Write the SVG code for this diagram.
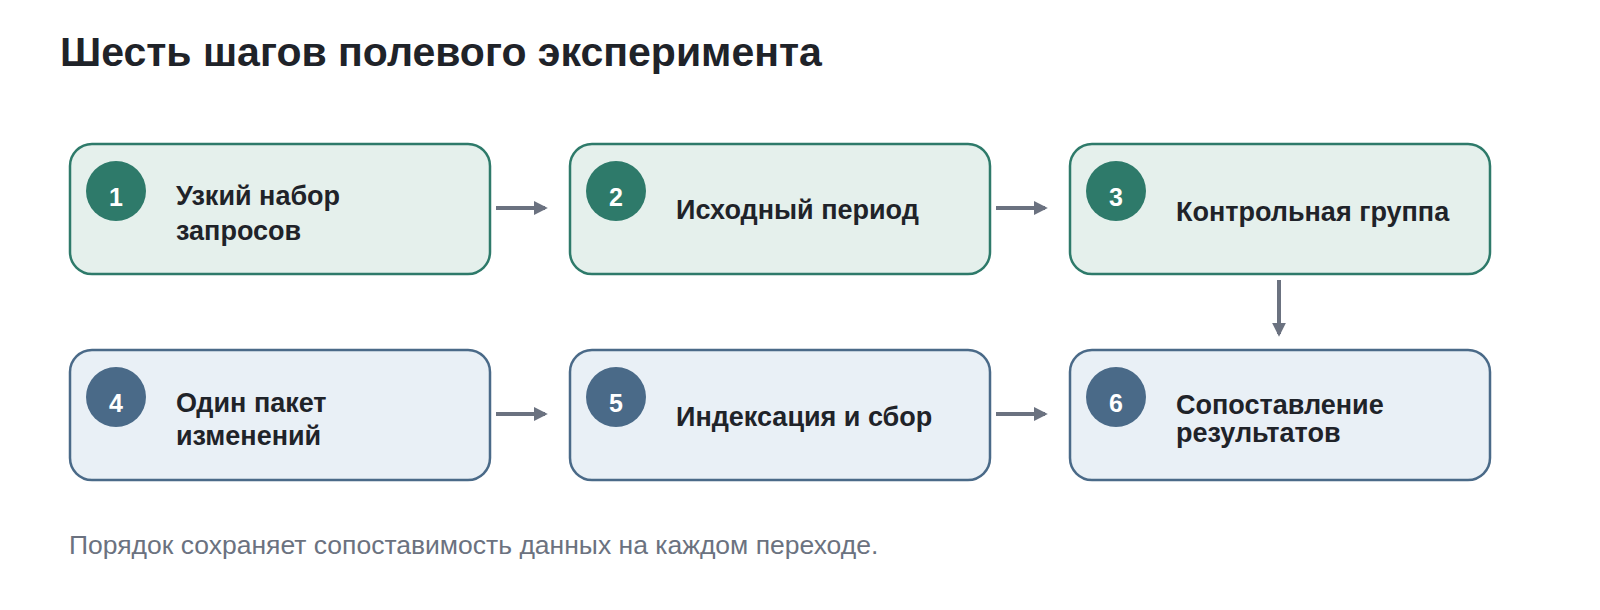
<svg xmlns="http://www.w3.org/2000/svg" width="1600" height="610" viewBox="0 0 1600 610">
<style>
text{font-family:"Liberation Sans",Arial,sans-serif}
.t{font-size:41px;font-weight:bold;fill:#1f2329}
.g rect{fill:#e5f0ec;stroke:#2e7a6a;stroke-width:2.5}
.g circle{fill:#2e7a6a}
.b rect{fill:#e9f0f6;stroke:#4a6a88;stroke-width:2.5}
.b circle{fill:#4a6a88}
.n{font-size:25px;font-weight:bold;fill:#fff;text-anchor:middle}
.l{font-size:27px;font-weight:bold;fill:#1f2329}
.c line{stroke:#6b7280;stroke-width:4}
.f{font-size:26.5px;fill:#6b7280}
</style>
<defs><marker id="a" viewBox="0 0 10 10" refX="8" refY="5" markerWidth="3.5" markerHeight="3.5" orient="auto"><path d="M0 0L10 5L0 10z" fill="#6b7280"/></marker></defs>
<text class="t" x="60" y="66">Шесть шагов полевого эксперимента</text>
<g id="n1" class="g"><rect x="70" y="144" width="420" height="130" rx="22"/><circle cx="116" cy="191" r="30"/><text class="n" x="116" y="206">1</text><text class="l" x="176" y="205">Узкий набор</text><text class="l" x="176" y="240">запросов</text></g>
<g id="n2" class="g"><rect x="570" y="144" width="420" height="130" rx="22"/><circle cx="616" cy="191" r="30"/><text class="n" x="616" y="206">2</text><text class="l" x="676" y="219">Исходный период</text></g>
<g id="n3" class="g"><rect x="1070" y="144" width="420" height="130" rx="22"/><circle cx="1116" cy="191" r="30"/><text class="n" x="1116" y="206">3</text><text class="l" x="1176" y="221">Контрольная группа</text></g>
<g id="n4" class="b"><rect x="70" y="350" width="420" height="130" rx="22"/><circle cx="116" cy="397" r="30"/><text class="n" x="116" y="412">4</text><text class="l" x="176" y="412">Один пакет</text><text class="l" x="176" y="445">изменений</text></g>
<g id="n5" class="b"><rect x="570" y="350" width="420" height="130" rx="22"/><circle cx="616" cy="397" r="30"/><text class="n" x="616" y="412">5</text><text class="l" x="676" y="426">Индексация и сбор</text></g>
<g id="n6" class="b"><rect x="1070" y="350" width="420" height="130" rx="22"/><circle cx="1116" cy="397" r="30"/><text class="n" x="1116" y="412">6</text><text class="l" x="1176" y="414">Сопоставление</text><text class="l" x="1176" y="442">результатов</text></g>
<g id="connectors" class="c">
<line x1="496" y1="208" x2="545" y2="208" marker-end="url(#a)"/>
<line x1="996" y1="208" x2="1045" y2="208" marker-end="url(#a)"/>
<line x1="1279" y1="280" x2="1279" y2="334" marker-end="url(#a)"/>
<line x1="496" y1="414" x2="545" y2="414" marker-end="url(#a)"/>
<line x1="996" y1="414" x2="1045" y2="414" marker-end="url(#a)"/>
</g>
<text class="f" x="69" y="554">Порядок сохраняет сопоставимость данных на каждом переходе.</text>
</svg>
